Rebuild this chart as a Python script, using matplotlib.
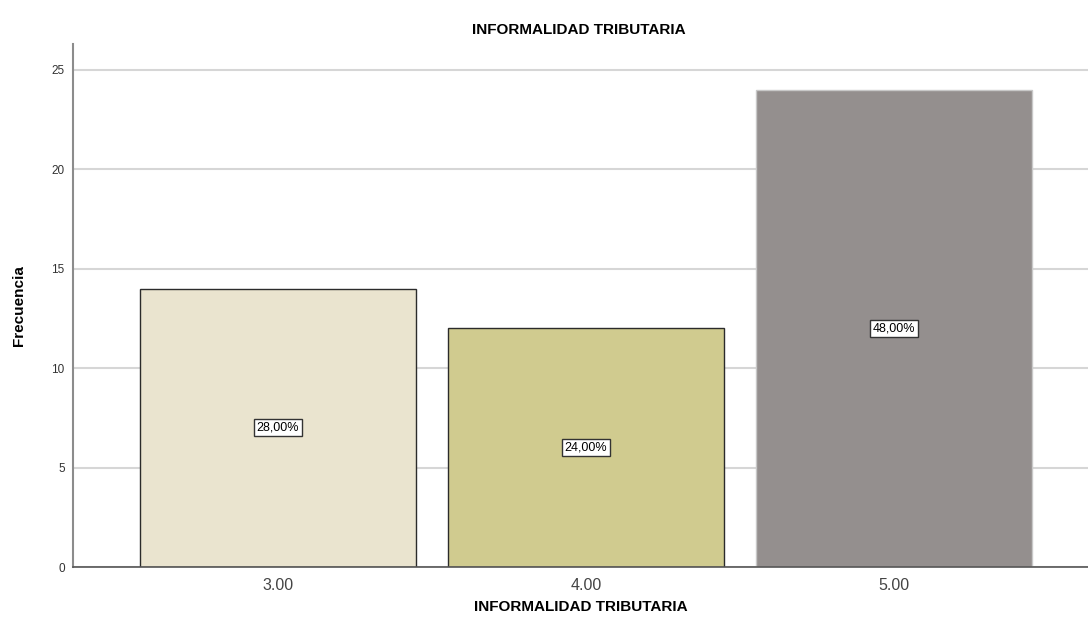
import matplotlib
matplotlib.use("Agg")
import matplotlib.pyplot as plt

categories = ["3.00", "4.00", "5.00"]
frequencies = [14, 12, 24]
percent_labels = ["28,00%", "24,00%", "48,00%"]
bar_colors = ["#EAE4CF", "#D0CB8F", "#948F8E"]
edge_colors = ["#2b2b2b", "#2b2b2b", "#C8C8C8"]

fig = plt.figure(figsize=(10.88, 6.38), dpi=100)
ax = fig.add_axes([73/1088, 1 - 567/638, 1 - 73/1088, (567 - 44)/638])

x = list(range(len(categories)))
ax.set_axisbelow(True)
ax.yaxis.grid(True, color="#D6D6D6", linewidth=1.5)
bars = ax.bar(x, frequencies, width=0.896, color=bar_colors,
              edgecolor=edge_colors, linewidth=1.0, zorder=2)

for xi, f, lab in zip(x, frequencies, percent_labels):
    ax.text(xi, f / 2, lab, ha="center", va="center", fontsize=9,
            family="Liberation Sans", zorder=3,
            bbox=dict(boxstyle="square,pad=0.2", facecolor="white",
                      edgecolor="#333333", linewidth=1))

ax.set_xlim(-0.6656, 2.63)
ax.set_ylim(0, 26.3)
ax.set_yticks([0, 5, 10, 15, 20, 25])
ax.set_xticks(x)
ax.set_xticklabels(categories, fontsize=11.5, color="#444444", family="Liberation Sans")
for t in ax.get_yticklabels():
    t.set_fontsize(8.5)
    t.set_family("Liberation Sans")
    t.set_color("#333333")
ax.tick_params(axis="both", length=0)
ax.tick_params(axis="x", pad=8)
ax.tick_params(axis="y", pad=6)

for s in ["top", "right"]:
    ax.spines[s].set_visible(False)
ax.spines["left"].set_color("#8C8C8C")
ax.spines["left"].set_linewidth(1.5)
ax.spines["bottom"].set_color("#555555")
ax.spines["bottom"].set_linewidth(1.2)

ax.set_xlabel("INFORMALIDAD TRIBUTARIA", fontsize=11, fontweight="bold",
              family="Liberation Sans", labelpad=5)
ax.set_ylabel("Frecuencia", fontsize=11, fontweight="bold",
              family="Liberation Sans", labelpad=18)
fig.text(0.5 + 35/1088, 1 - 30/638, "INFORMALIDAD TRIBUTARIA", ha="center", va="center",
         fontsize=11, fontweight="bold", family="Liberation Sans")

fig.savefig("out.png", dpi=100)
